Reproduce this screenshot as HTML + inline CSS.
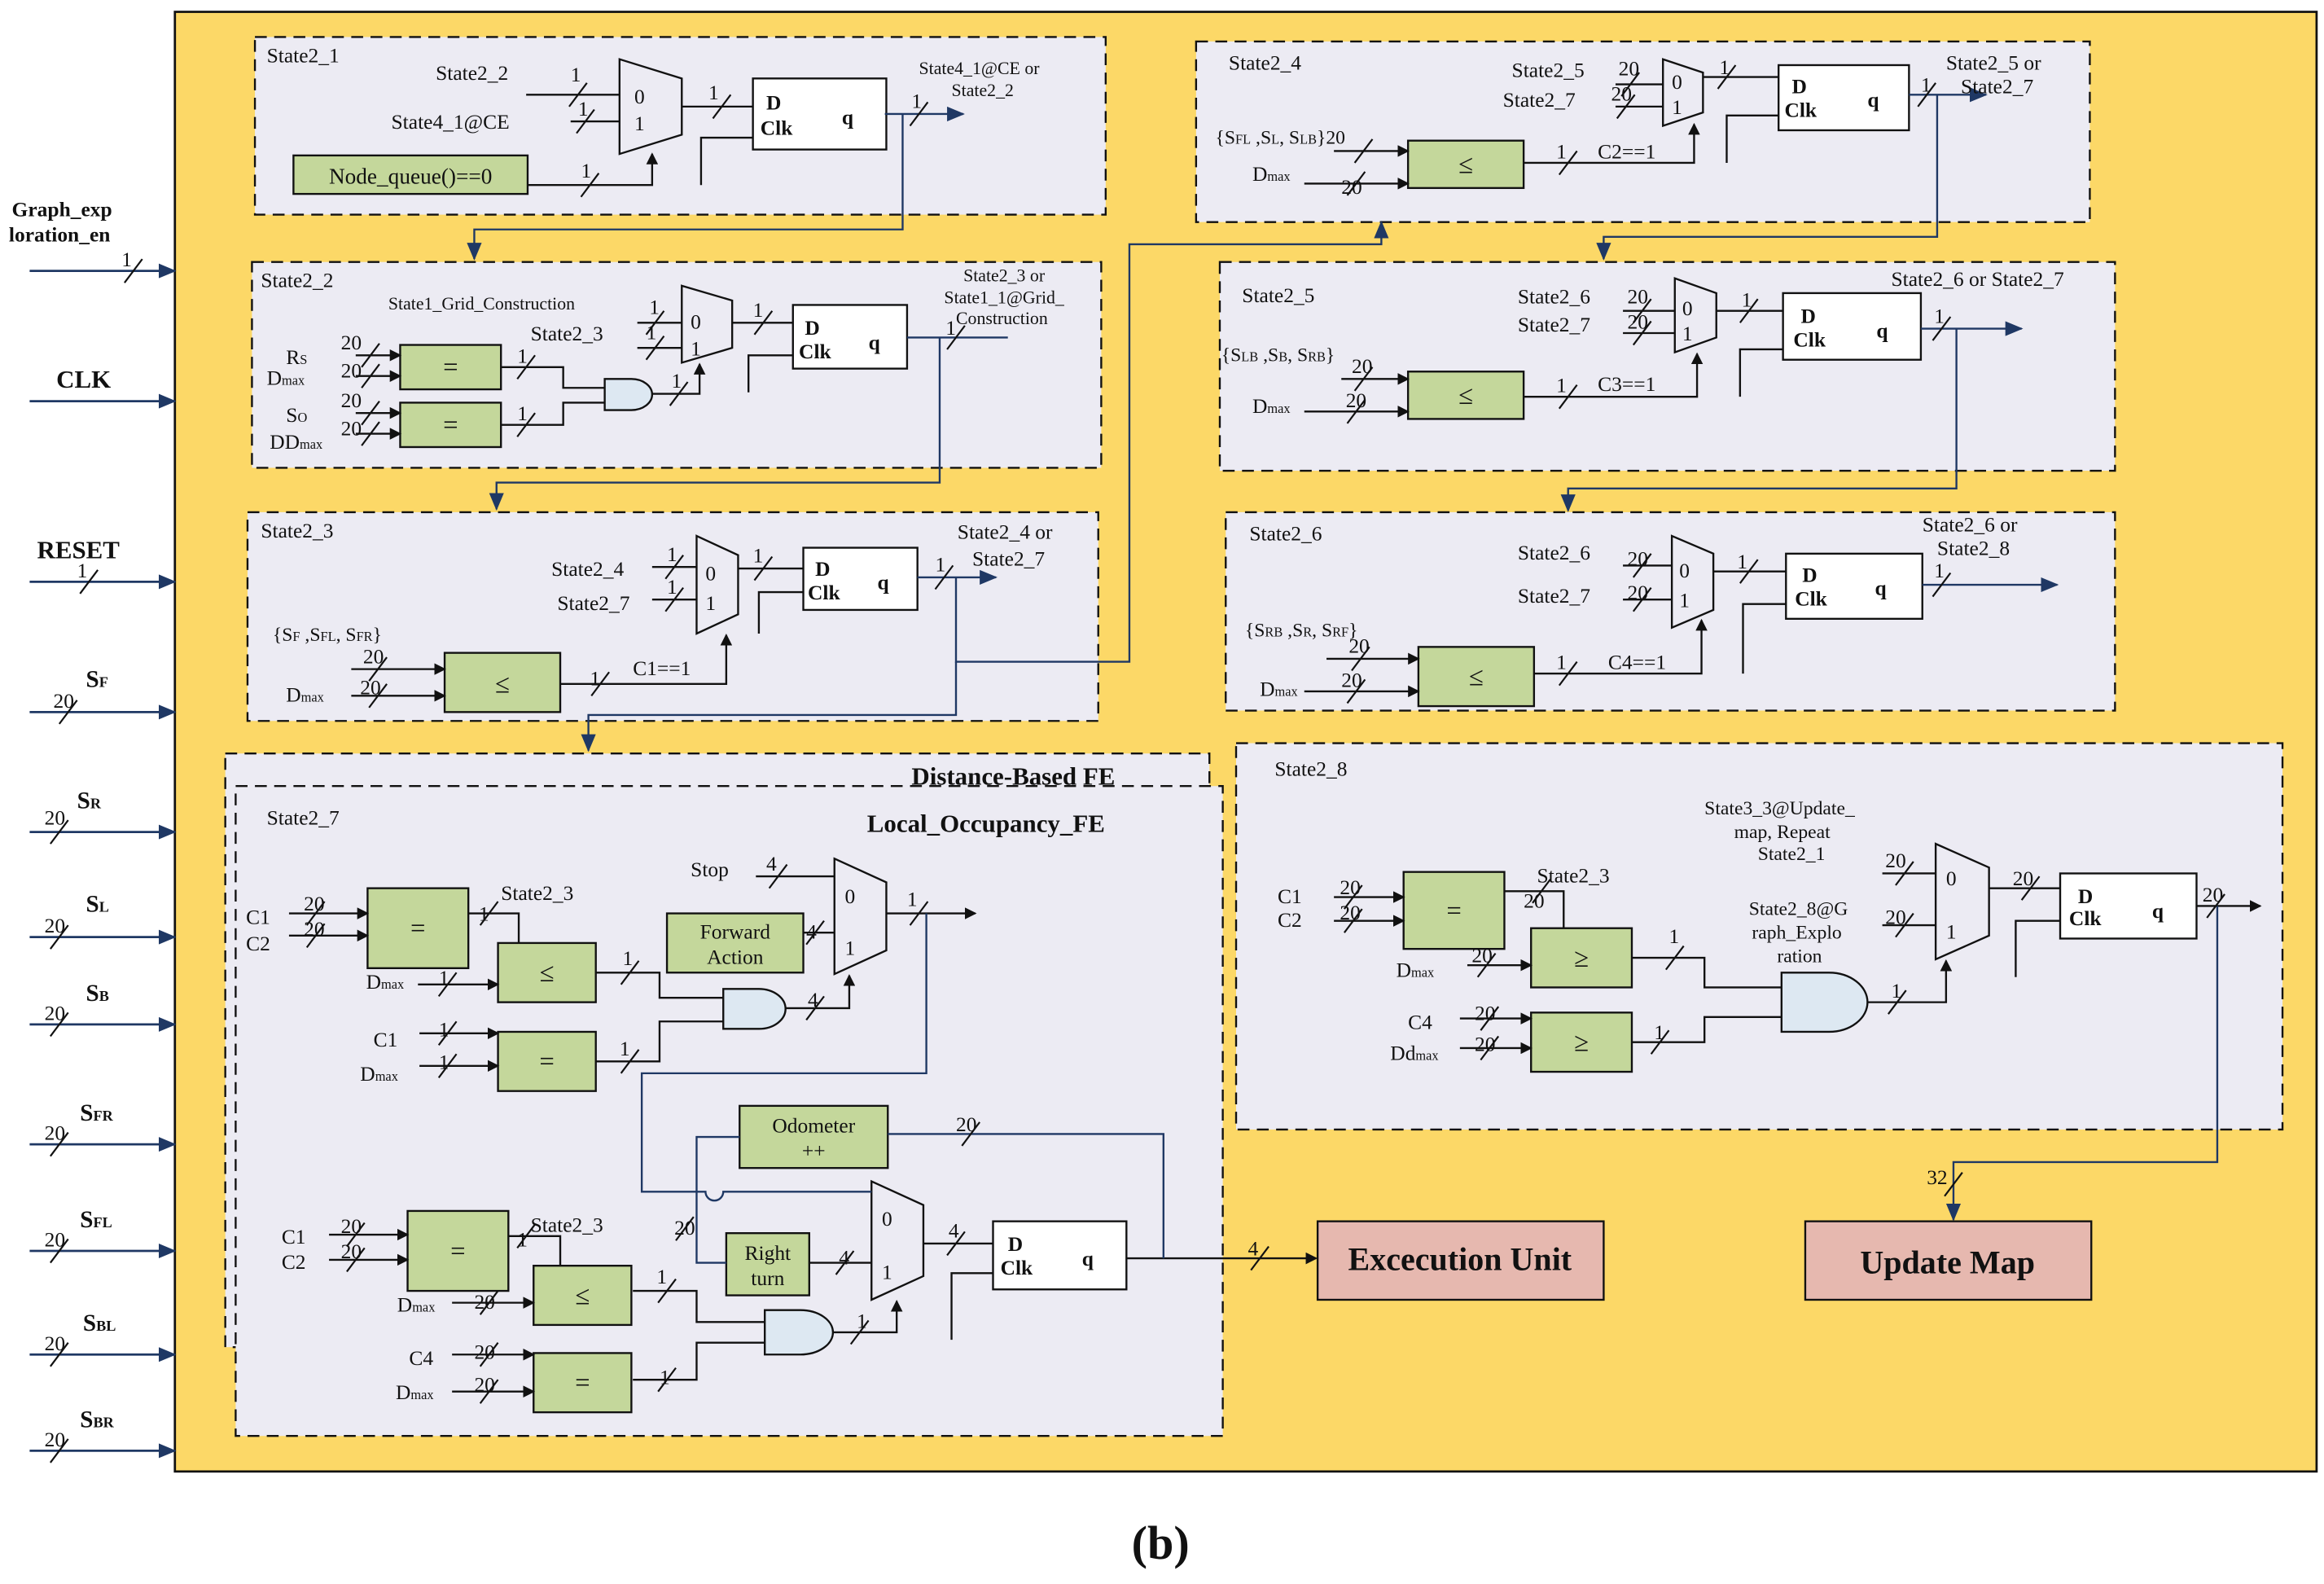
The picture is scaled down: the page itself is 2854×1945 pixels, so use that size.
<!DOCTYPE html>
<html><head><meta charset="utf-8"><style>
html,body{margin:0;padding:0;background:#fff;}
svg{display:block;}
text{font-family:"Liberation Serif",serif;fill:#111;}
.s{font-size:14px}
.m{font-size:12px}
.b{font-weight:bold}
</style></head><body>
<svg width="2854" height="1945" viewBox="0 0 1568 1070" preserveAspectRatio="none" xmlns="http://www.w3.org/2000/svg">
<defs>
<marker id="a" markerWidth="8" markerHeight="8" refX="7" refY="4" orient="auto" markerUnits="userSpaceOnUse"><path d="M0,0 L8,4 L0,8 Z" fill="#111"/></marker>
<marker id="n" markerWidth="12" markerHeight="10" refX="11" refY="5" orient="auto" markerUnits="userSpaceOnUse"><path d="M0,0 L12,5 L0,10 Z" fill="#1F3864"/></marker>
<path id="t" d="M-6,8 L6,-8" stroke="#111" stroke-width="1.2"/>
</defs>
<rect x="0" y="0" width="1568" height="1070" fill="#fff"/>
<rect x="118" y="8" width="1445" height="986" fill="#FCD867" stroke="#111" stroke-width="1.5"/>

<!-- left inputs -->
<g stroke="#1F3864" stroke-width="1.5" fill="none" marker-end="url(#n)">
<path d="M20,183 H118"/><path d="M20,271 H118"/><path d="M20,393 H118"/><path d="M20,481 H118"/>
<path d="M20,562 H118"/><path d="M20,633 H118"/><path d="M20,692 H118"/><path d="M20,773 H118"/>
<path d="M20,845 H118"/><path d="M20,915 H118"/><path d="M20,980 H118"/>
</g>
<g class="b">
<text x="8" y="146" font-size="14">Graph_exp</text><text x="6" y="163" font-size="14">loration_en</text>
<text x="38" y="262" font-size="17">CLK</text><text x="25" y="377" font-size="17">RESET</text>
<text x="58" y="464" font-size="16">S<tspan font-size="10">F</tspan></text>
<text x="52" y="546" font-size="16">S<tspan font-size="10">R</tspan></text>
<text x="58" y="616" font-size="16">S<tspan font-size="10">L</tspan></text>
<text x="58" y="676" font-size="16">S<tspan font-size="10">B</tspan></text>
<text x="54" y="757" font-size="16">S<tspan font-size="10">FR</tspan></text>
<text x="54" y="829" font-size="16">S<tspan font-size="10">FL</tspan></text>
<text x="56" y="899" font-size="16">S<tspan font-size="10">BL</tspan></text>
<text x="54" y="964" font-size="16">S<tspan font-size="10">BR</tspan></text>
</g>
<g class="s">
<text x="82" y="180">1</text><text x="52" y="390">1</text><text x="36" y="478">20</text><text x="30" y="557">20</text>
<text x="30" y="630">20</text><text x="30" y="689">20</text><text x="30" y="770">20</text><text x="30" y="842">20</text>
<text x="30" y="912">20</text><text x="30" y="977">20</text>
</g>
<use href="#t" x="90" y="183"/><use href="#t" x="60" y="393"/><use href="#t" x="46" y="481"/><use href="#t" x="40" y="562"/>
<use href="#t" x="40" y="633"/><use href="#t" x="40" y="692"/><use href="#t" x="40" y="773"/><use href="#t" x="40" y="845"/>
<use href="#t" x="40" y="915"/><use href="#t" x="40" y="980"/>

<!-- state boxes -->
<g fill="#ECEBF3" stroke="#111" stroke-width="1.3" stroke-dasharray="8,5">
<rect x="172" y="25" width="574" height="120"/>
<rect x="170" y="177" width="573" height="139"/>
<rect x="167" y="346" width="574" height="141"/>
<rect x="807" y="28" width="603" height="122"/>
<rect x="823" y="177" width="604" height="141"/>
<rect x="827" y="346" width="600" height="134"/>
<rect x="834" y="502" width="706" height="261"/>
<rect x="152" y="509" width="664" height="401"/>
<rect x="159" y="531" width="666" height="439"/>
</g>

<!-- green boxes -->
<g fill="#C4D79B" stroke="#111" stroke-width="1.3">
<rect x="198" y="105" width="158" height="26"/>
<rect x="270" y="233" width="68" height="30"/><rect x="270" y="272" width="68" height="30"/>
<rect x="300" y="441" width="78" height="40"/>
<rect x="950" y="95" width="78" height="32"/>
<rect x="950" y="251" width="78" height="32"/>
<rect x="957" y="437" width="78" height="40"/>
<rect x="947" y="589" width="68" height="52"/><rect x="1033" y="627" width="68" height="40"/><rect x="1033" y="684" width="68" height="40"/>
<rect x="248" y="600" width="68" height="54"/><rect x="336" y="637" width="66" height="40"/><rect x="450" y="617" width="92" height="40"/>
<rect x="336" y="697" width="66" height="40"/><rect x="499" y="747" width="100" height="42"/><rect x="490" y="833" width="56" height="42"/>
<rect x="275" y="818" width="68" height="54"/><rect x="360" y="855" width="66" height="40"/><rect x="360" y="914" width="66" height="40"/>
</g>
<g font-size="18" text-anchor="middle">
<text x="304" y="254">=</text><text x="304" y="293">=</text><text x="339" y="468">≤</text>
<text x="989" y="117">≤</text><text x="989" y="273">≤</text><text x="996" y="463">≤</text>
<text x="981" y="621">=</text><text x="1067" y="653">≥</text><text x="1067" y="710">≥</text>
<text x="282" y="633">=</text><text x="369" y="663">≤</text><text x="369" y="723">=</text>
<text x="309" y="851">=</text><text x="393" y="881">≤</text><text x="393" y="940">=</text>
</g>
<g class="s" text-anchor="middle">
<text x="277" y="124" font-size="15">Node_queue()==0</text>
<text x="496" y="634">Forward</text><text x="496" y="651">Action</text>
<text x="549" y="765">Odometer</text><text x="549" y="782">++</text>
<text x="518" y="851">Right</text><text x="518" y="868">turn</text>
</g>

<!-- muxes -->
<g fill="#ECEBF3" stroke="#111" stroke-width="1.3">
<path d="M418,40 L460,53 L460,91 L418,104 Z"/>
<path d="M460,193 L494,203 L494,235 L460,245 Z"/>
<path d="M470,362 L498,375 L498,415 L470,428 Z"/>
<path d="M1122,40 L1149,49 L1149,76 L1122,85 Z"/>
<path d="M1130,188 L1158,198 L1158,228 L1130,238 Z"/>
<path d="M1128,362 L1156,374 L1156,412 L1128,424 Z"/>
<path d="M1306,570 L1342,586 L1342,632 L1306,648 Z"/>
<path d="M563,580 L598,596 L598,642 L563,658 Z"/>
<path d="M588,798 L623,814 L623,862 L588,878 Z"/>
</g>
<g class="s">
<text x="428" y="70">0</text><text x="428" y="88">1</text>
<text x="466" y="222">0</text><text x="466" y="240">1</text>
<text x="476" y="392">0</text><text x="476" y="412">1</text>
<text x="1128" y="60">0</text><text x="1128" y="77">1</text>
<text x="1135" y="213">0</text><text x="1135" y="230">1</text>
<text x="1133" y="390">0</text><text x="1133" y="410">1</text>
<text x="1313" y="598">0</text><text x="1313" y="634">1</text>
<text x="570" y="610">0</text><text x="570" y="645">1</text>
<text x="595" y="828">0</text><text x="595" y="864">1</text>
</g>

<!-- DFFs -->
<g fill="#fff" stroke="#111" stroke-width="1.3">
<rect x="508" y="53" width="90" height="48"/><rect x="535" y="206" width="77" height="43"/><rect x="542" y="370" width="77" height="42"/>
<rect x="1200" y="44" width="88" height="44"/><rect x="1203" y="198" width="93" height="45"/><rect x="1205" y="374" width="92" height="44"/>
<rect x="1390" y="590" width="92" height="44"/><rect x="670" y="825" width="90" height="46"/>
</g>
<g class="s b">
<text x="517" y="74">D</text><text x="513" y="91">Clk</text><text x="568" y="84">q</text>
<text x="543" y="226">D</text><text x="539" y="242">Clk</text><text x="586" y="236">q</text>
<text x="550" y="389">D</text><text x="545" y="405">Clk</text><text x="592" y="398">q</text>
<text x="1209" y="63">D</text><text x="1204" y="79">Clk</text><text x="1260" y="72">q</text>
<text x="1215" y="218">D</text><text x="1210" y="234">Clk</text><text x="1266" y="228">q</text>
<text x="1216" y="393">D</text><text x="1211" y="409">Clk</text><text x="1265" y="402">q</text>
<text x="1402" y="610">D</text><text x="1396" y="625">Clk</text><text x="1452" y="620">q</text>
<text x="680" y="845">D</text><text x="675" y="861">Clk</text><text x="730" y="855">q</text>
</g>

<!-- AND gates -->
<g fill="#DDE8F2" stroke="#111" stroke-width="1.3">
<path d="M408,256 H426 A14,10.5 0 0 1 426,277 H408 Z"/>
<path d="M488,668 H512 A18,13.5 0 0 1 512,695 H488 Z"/>
<path d="M516,885 H540 A22,15 0 0 1 540,915 H516 Z"/>
<path d="M1202,657 H1234 A26,20 0 0 1 1234,697 H1202 Z"/>
</g>

<!-- black wires -->
<g stroke="#111" stroke-width="1.3" fill="none">
<path d="M355,64 H418"/><path d="M385,82 H418"/><path d="M460,72 H508"/><path d="M473,125 V93 H508"/>
<path d="M356,125 H440 V104" marker-end="url(#a)"/>
<path d="M430,218 H460"/><path d="M430,235 H460"/><path d="M494,218 H535"/><path d="M505,265 V240 H535"/>
<path d="M240,240 H270" marker-end="url(#a)"/><path d="M240,254 H270" marker-end="url(#a)"/>
<path d="M240,279 H270" marker-end="url(#a)"/><path d="M240,293 H270" marker-end="url(#a)"/>
<path d="M338,248 H380 V262 H408"/><path d="M338,287 H380 V272 H408"/>
<path d="M440,266 H472 V246" marker-end="url(#a)"/>
<path d="M440,383 H470"/><path d="M440,405 H470"/><path d="M498,384 H542"/><path d="M512,428 V400 H542"/>
<path d="M237,452 H300" marker-end="url(#a)"/><path d="M237,470 H300" marker-end="url(#a)"/>
<path d="M378,462 H490 V429" marker-end="url(#a)"/>
<path d="M1090,57 H1122"/><path d="M1090,72 H1122"/><path d="M1149,52 H1200"/><path d="M1165,110 V78 H1200"/>
<path d="M900,102 H950" marker-end="url(#a)"/><path d="M880,124 H950" marker-end="url(#a)"/>
<path d="M1028,110 H1143 V84" marker-end="url(#a)"/>
<path d="M1095,210 H1130"/><path d="M1095,225 H1130"/><path d="M1158,210 H1203"/><path d="M1174,268 V236 H1203"/>
<path d="M905,256 H950" marker-end="url(#a)"/><path d="M880,278 H950" marker-end="url(#a)"/>
<path d="M1028,268 H1145 V239" marker-end="url(#a)"/>
<path d="M1095,382 H1128"/><path d="M1095,405 H1128"/><path d="M1156,386 H1205"/><path d="M1176,455 V408 H1205"/>
<path d="M895,445 H957" marker-end="url(#a)"/><path d="M880,467 H957" marker-end="url(#a)"/>
<path d="M1035,455 H1148 V419" marker-end="url(#a)"/>
<path d="M900,606 H947" marker-end="url(#a)"/><path d="M900,622 H947" marker-end="url(#a)"/>
<path d="M1015,602 H1055 V627"/><path d="M990,652 H1033" marker-end="url(#a)"/>
<path d="M985,688 H1033" marker-end="url(#a)"/><path d="M985,708 H1033" marker-end="url(#a)"/>
<path d="M1101,647 H1150 V667 H1202"/><path d="M1101,704 H1150 V687 H1202"/>
<path d="M1260,677 H1313 V649" marker-end="url(#a)"/>
<path d="M1270,590 H1306"/><path d="M1270,625 H1306"/><path d="M1342,600 H1390"/><path d="M1360,660 V622 H1390"/>
<path d="M1482,612 H1525" marker-end="url(#a)"/>
<path d="M510,592 H563"/><path d="M598,617 H658" marker-end="url(#a)"/>
<path d="M195,617 H248" marker-end="url(#a)"/><path d="M195,632 H248" marker-end="url(#a)"/>
<path d="M316,617 H350 V637"/><path d="M282,665 H336" marker-end="url(#a)"/>
<path d="M542,630 H563"/>
<path d="M402,657 H445 V674 H488"/>
<path d="M283,698 H336" marker-end="url(#a)"/><path d="M283,720 H336" marker-end="url(#a)"/>
<path d="M402,717 H445 V690 H488"/>
<path d="M530,681 H573 V659" marker-end="url(#a)"/>
<path d="M546,853 H588"/><path d="M623,840 H670"/><path d="M642,905 V860 H670"/>
<path d="M222,834 H275" marker-end="url(#a)"/><path d="M222,851 H275" marker-end="url(#a)"/>
<path d="M343,835 H378 V855"/><path d="M305,880 H360" marker-end="url(#a)"/>
<path d="M427,872 H470 V893 H516"/>
<path d="M305,915 H360" marker-end="url(#a)"/><path d="M305,940 H360" marker-end="url(#a)"/>
<path d="M427,932 H470 V907 H516"/>
<path d="M562,900 H605 V879" marker-end="url(#a)"/>
<path d="M760,850 H888" marker-end="url(#a)"/>
</g>

<!-- navy wires -->
<g stroke="#1F3864" stroke-width="1.3" fill="none">
<path d="M597,77 H650" marker-end="url(#n)"/>
<path d="M609,77 V155 H320 V175" marker-end="url(#n)"/>
<path d="M612,228 H680"/>
<path d="M634,228 V326 H335 V344" marker-end="url(#n)"/>
<path d="M619,390 H672" marker-end="url(#n)"/>
<path d="M645,390 V447 H762 V165 H932 V150" marker-end="url(#n)"/>
<path d="M645,447 V483 H397 V507" marker-end="url(#n)"/>
<path d="M1288,64 H1340" marker-end="url(#n)"/>
<path d="M1307,64 V160 H1082 V175" marker-end="url(#n)"/>
<path d="M1296,222 H1364" marker-end="url(#n)"/>
<path d="M1320,222 V330 H1058 V345" marker-end="url(#n)"/>
<path d="M1297,395 H1388" marker-end="url(#n)"/>
<path d="M1496,612 V785 H1318 V824" marker-end="url(#n)"/>
<path d="M625,617 V725 H433 V805 H476 A6,6 0 0 0 488,805 H588"/>
<path d="M499,768 H470 V853 H490"/>
<path d="M599,766 H785 V850"/>
</g>

<!-- ticks -->
<use href="#t" x="390" y="64"/><use href="#t" x="395" y="82"/><use href="#t" x="487" y="72"/><use href="#t" x="398" y="125"/><use href="#t" x="620" y="77"/>
<use href="#t" x="442" y="218"/><use href="#t" x="442" y="235"/><use href="#t" x="515" y="218"/><use href="#t" x="645" y="228"/>
<use href="#t" x="250" y="240"/><use href="#t" x="250" y="254"/><use href="#t" x="250" y="279"/><use href="#t" x="250" y="293"/>
<use href="#t" x="355" y="248"/><use href="#t" x="355" y="287"/><use href="#t" x="458" y="266"/>
<use href="#t" x="455" y="383"/><use href="#t" x="455" y="405"/><use href="#t" x="515" y="384"/><use href="#t" x="637" y="390"/>
<use href="#t" x="255" y="452"/><use href="#t" x="255" y="470"/><use href="#t" x="405" y="462"/>
<use href="#t" x="1100" y="57"/><use href="#t" x="1097" y="72"/><use href="#t" x="1165" y="52"/><use href="#t" x="1300" y="64"/>
<use href="#t" x="920" y="102"/><use href="#t" x="915" y="124"/><use href="#t" x="1058" y="110"/>
<use href="#t" x="1108" y="210"/><use href="#t" x="1108" y="225"/><use href="#t" x="1180" y="210"/><use href="#t" x="1310" y="222"/>
<use href="#t" x="920" y="256"/><use href="#t" x="915" y="278"/><use href="#t" x="1058" y="268"/>
<use href="#t" x="1108" y="382"/><use href="#t" x="1108" y="405"/><use href="#t" x="1180" y="386"/><use href="#t" x="1310" y="395"/>
<use href="#t" x="918" y="445"/><use href="#t" x="915" y="467"/><use href="#t" x="1058" y="455"/>
<use href="#t" x="913" y="606"/><use href="#t" x="913" y="622"/><use href="#t" x="1040" y="602"/><use href="#t" x="1003" y="652"/>
<use href="#t" x="1005" y="688"/><use href="#t" x="1005" y="708"/><use href="#t" x="1130" y="647"/><use href="#t" x="1120" y="704"/>
<use href="#t" x="1285" y="590"/><use href="#t" x="1285" y="625"/><use href="#t" x="1280" y="677"/><use href="#t" x="1370" y="600"/><use href="#t" x="1495" y="612"/><use href="#t" x="1318" y="800"/>
<use href="#t" x="525" y="592"/><use href="#t" x="620" y="617"/><use href="#t" x="213" y="617"/><use href="#t" x="213" y="632"/>
<use href="#t" x="330" y="617"/><use href="#t" x="302" y="665"/><use href="#t" x="550" y="630"/><use href="#t" x="425" y="657"/>
<use href="#t" x="302" y="698"/><use href="#t" x="302" y="720"/><use href="#t" x="425" y="717"/><use href="#t" x="550" y="681"/>
<use href="#t" x="570" y="853"/><use href="#t" x="645" y="840"/><use href="#t" x="240" y="834"/><use href="#t" x="240" y="851"/>
<use href="#t" x="355" y="835"/><use href="#t" x="330" y="880"/><use href="#t" x="450" y="872"/><use href="#t" x="330" y="915"/>
<use href="#t" x="330" y="940"/><use href="#t" x="450" y="932"/><use href="#t" x="580" y="900"/><use href="#t" x="850" y="850"/>
<use href="#t" x="655" y="766"/><use href="#t" x="462" y="830"/>

<!-- labels -->
<g class="s">
<text x="180" y="42">State2_1</text>
<text x="294" y="54">State2_2</text><text x="385" y="55">1</text>
<text x="264" y="87">State4_1@CE</text><text x="390" y="78">1</text><text x="478" y="67">1</text><text x="392" y="120">1</text><text x="615" y="73">1</text>
<text x="176" y="194">State2_2</text>
<text x="358" y="230">State2_3</text><text x="438" y="212">1</text><text x="436" y="229">1</text><text x="508" y="214">1</text><text x="638" y="226">1</text>
<text x="193" y="246">R<tspan font-size="9">S</tspan></text><text x="180" y="260">D<tspan font-size="9">max</tspan></text>
<text x="193" y="285">S<tspan font-size="9">O</tspan></text><text x="182" y="303">DD<tspan font-size="9">max</tspan></text>
<text x="230" y="236">20</text><text x="230" y="255">20</text><text x="230" y="275">20</text><text x="230" y="294">20</text>
<text x="349" y="245">1</text><text x="349" y="284">1</text><text x="453" y="262">1</text>
<text x="176" y="363">State2_3</text>
<text x="372" y="389">State2_4</text><text x="376" y="412">State2_7</text><text x="450" y="379">1</text><text x="450" y="401">1</text><text x="508" y="380">1</text><text x="631" y="386">1</text>
<text x="646" y="364">State2_4 or</text><text x="656" y="382">State2_7</text>
<text x="184" y="433" font-size="13">{S<tspan font-size="9">F</tspan> ,S<tspan font-size="9">FL</tspan>, S<tspan font-size="9">FR</tspan>}</text>
<text x="245" y="448">20</text><text x="193" y="474">D<tspan font-size="9">max</tspan></text><text x="243" y="469">20</text>
<text x="398" y="463">1</text><text x="427" y="456">C1==1</text>
<text x="829" y="47">State2_4</text>
<text x="1020" y="52">State2_5</text><text x="1014" y="72">State2_7</text><text x="1092" y="51">20</text><text x="1087" y="68">20</text><text x="1160" y="50">1</text>
<text x="1313" y="47">State2_5 or</text><text x="1323" y="63">State2_7</text><text x="1296" y="62">1</text>
<text x="820" y="97" font-size="13">{S<tspan font-size="9">FL</tspan> ,S<tspan font-size="9">L</tspan>, S<tspan font-size="9">LB</tspan>}20</text>
<text x="845" y="122">D<tspan font-size="9">max</tspan></text><text x="905" y="131">20</text>
<text x="1050" y="107">1</text><text x="1078" y="107">C2==1</text>
<text x="838" y="204">State2_5</text>
<text x="1024" y="205">State2_6</text><text x="1024" y="224">State2_7</text><text x="1098" y="205">20</text><text x="1098" y="222">20</text><text x="1175" y="207">1</text>
<text x="1276" y="193">State2_6 or State2_7</text><text x="1305" y="218">1</text>
<text x="824" y="244" font-size="13">{S<tspan font-size="9">LB</tspan> ,S<tspan font-size="9">B</tspan>, S<tspan font-size="9">RB</tspan>}</text><text x="912" y="252">20</text>
<text x="845" y="279">D<tspan font-size="9">max</tspan></text><text x="908" y="275">20</text>
<text x="1050" y="265">1</text><text x="1078" y="264">C3==1</text>
<text x="843" y="365">State2_6</text>
<text x="1024" y="378">State2_6</text><text x="1024" y="407">State2_7</text><text x="1098" y="382">20</text><text x="1098" y="405">20</text><text x="1172" y="384">1</text>
<text x="1297" y="359">State2_6 or</text><text x="1307" y="375">State2_8</text><text x="1305" y="390">1</text>
<text x="840" y="430" font-size="13">{S<tspan font-size="9">RB</tspan> ,S<tspan font-size="9">R</tspan>, S<tspan font-size="9">RF</tspan>}</text><text x="910" y="441">20</text>
<text x="850" y="470">D<tspan font-size="9">max</tspan></text><text x="905" y="464">20</text>
<text x="1050" y="452">1</text><text x="1085" y="452">C4==1</text>
<text x="860" y="524">State2_8</text>
<text x="1150" y="550" font-size="13">State3_3@Update_</text><text x="1170" y="566" font-size="13">map, Repeat</text><text x="1186" y="581" font-size="13">State2_1</text>
<text x="1180" y="618" font-size="13">State2_8@G</text><text x="1182" y="634" font-size="13">raph_Explo</text><text x="1199" y="650" font-size="13">ration</text>
<text x="862" y="610">C1</text><text x="862" y="626">C2</text><text x="904" y="604">20</text><text x="904" y="621">20</text>
<text x="1037" y="596">State2_3</text><text x="1028" y="613">20</text>
<text x="942" y="660">D<tspan font-size="9">max</tspan></text><text x="993" y="650">20</text>
<text x="950" y="695">C4</text><text x="938" y="716">Dd<tspan font-size="9">max</tspan></text><text x="995" y="689">20</text><text x="995" y="710">20</text>
<text x="1126" y="637">1</text><text x="1116" y="702">1</text><text x="1276" y="674">1</text>
<text x="1272" y="586">20</text><text x="1272" y="624">20</text><text x="1358" y="598">20</text><text x="1486" y="609">20</text><text x="1300" y="800">32</text>
<text x="180" y="557">State2_7</text>
<text x="466" y="592">Stop</text><text x="517" y="588">4</text><text x="612" y="612">1</text>
<text x="166" y="624">C1</text><text x="166" y="642">C2</text><text x="205" y="615">20</text><text x="205" y="632">20</text>
<text x="338" y="608">State2_3</text><text x="323" y="622">1</text>
<text x="247" y="668">D<tspan font-size="9">max</tspan></text><text x="296" y="665">1</text><text x="544" y="634">4</text><text x="420" y="652">1</text><text x="545" y="680">4</text>
<text x="252" y="707">C1</text><text x="243" y="730">D<tspan font-size="9">max</tspan></text><text x="296" y="700">1</text><text x="296" y="722">1</text><text x="418" y="713">1</text>
<text x="645" y="764">20</text><text x="455" y="834">20</text>
<text x="190" y="840">C1</text><text x="190" y="857">C2</text><text x="230" y="833">20</text><text x="230" y="850">20</text>
<text x="358" y="832">State2_3</text><text x="349" y="842">1</text>
<text x="268" y="886">D<tspan font-size="9">max</tspan></text><text x="320" y="884">20</text><text x="443" y="867">1</text>
<text x="276" y="922">C4</text><text x="267" y="945">D<tspan font-size="9">max</tspan></text><text x="320" y="918">20</text><text x="320" y="940">20</text><text x="445" y="935">1</text>
<text x="566" y="854">4</text><text x="640" y="836">4</text><text x="578" y="897">1</text><text x="842" y="848">4</text>
</g>
<g class="m">
<text x="620" y="50">State4_1@CE or</text><text x="642" y="65">State2_2</text>
<text x="262" y="209">State1_Grid_Construction</text>
<text x="650" y="190">State2_3 or</text><text x="637" y="205">State1_1@Grid_</text><text x="645" y="219">Construction</text>
</g>
<text x="615" y="530" class="b" font-size="17">Distance-Based FE</text>
<text x="585" y="562" class="b" font-size="17">Local_Occupancy_FE</text>

<!-- pink boxes -->
<rect x="889" y="825" width="193" height="53" fill="#E6B8AF" stroke="#111" stroke-width="1.3"/>
<rect x="1218" y="825" width="193" height="53" fill="#E6B8AF" stroke="#111" stroke-width="1.3"/>
<text x="985" y="858" text-anchor="middle" class="b" font-size="22">Excecution Unit</text>
<text x="1314" y="860" text-anchor="middle" class="b" font-size="22">Update Map</text>

<text x="783" y="1053" text-anchor="middle" font-size="32" class="b">(b)</text>
</svg>
</body></html>
